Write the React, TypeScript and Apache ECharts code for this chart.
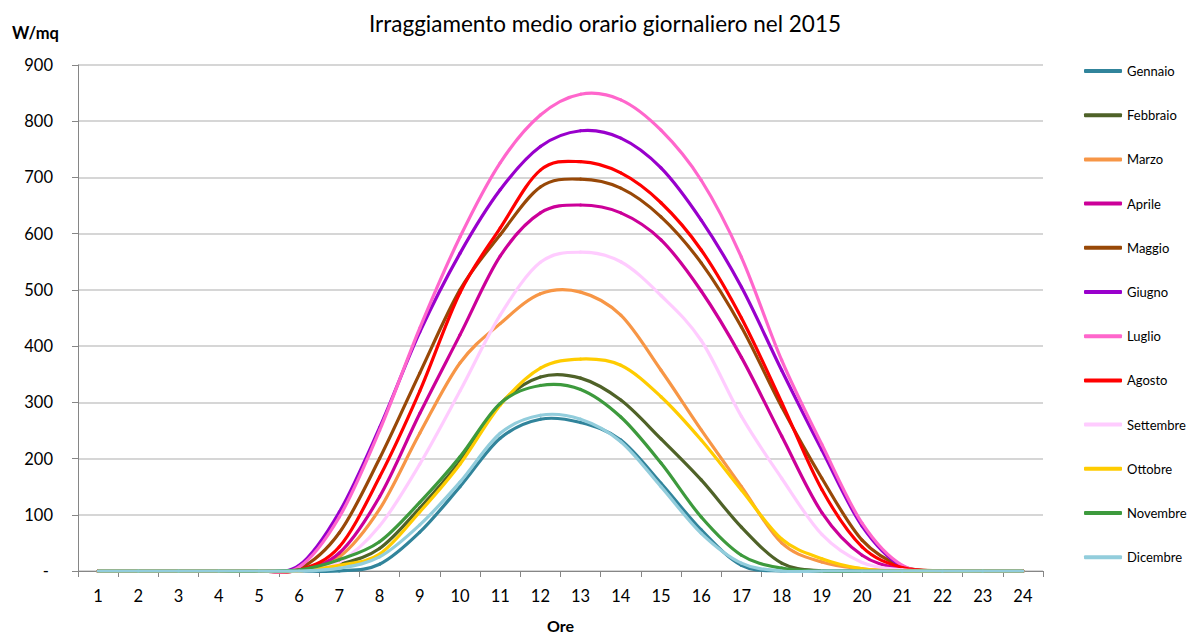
import React, { useEffect, useRef } from "react";
import * as echarts from "echarts";

const hours = ["1","2","3","4","5","6","7","8","9","10","11","12","13","14","15","16","17","18","19","20","21","22","23","24"];
const yTicks = [0, 100, 200, 300, 400, 500, 600, 700, 800, 900];

const months = ["Gennaio","Febbraio","Marzo","Aprile","Maggio","Giugno","Luglio","Agosto","Settembre","Ottobre","Novembre","Dicembre"];
const monthColors = ["#31849B","#4F6228","#F79646","#CC0099","#984807","#9900CC","#FF66CC","#FF0000","#FFCCFF","#FFCC00","#3D9A3D","#92CDDC"];

const gennaio   = [0,0,0,0,0,0,0,12,69,150,236,270,264,233,156,73,10,0,0,0,0,0,0,0];
const febbraio  = [0,0,0,0,0,0,12,40,112,195,297,345,343,304,235,162,78,14,0,0,0,0,0,0];
const marzo     = [0,0,0,0,0,1,25,110,245,370,440,493,496,455,357,251,150,50,16,4,0,0,0,0];
const aprile    = [0,0,0,0,0,1,32,132,280,420,560,637,651,637,589,498,380,240,104,28,4,0,0,0];
const maggio    = [0,0,0,0,0,4,68,200,352,500,598,683,697,681,630,548,434,292,165,55,8,0,0,0];
const giugno    = [0,0,0,0,0,10,105,255,425,565,678,755,783,770,717,624,505,357,215,80,8,0,0,0];
const luglio    = [0,0,0,0,0,7,96,250,432,594,726,811,848,838,784,695,558,375,225,85,10,0,0,0];
const agosto    = [0,0,0,0,0,2,43,167,320,495,610,713,728,708,655,571,450,300,145,43,6,0,0,0];
const settembre = [0,0,0,0,0,0,16,80,190,320,455,549,567,550,490,410,275,165,65,15,2,0,0,0];
const ottobre   = [0,0,0,0,0,0,10,30,105,190,295,361,377,366,310,233,144,57,22,4,0,0,0,0];
const novembre  = [0,0,0,0,0,2,20,52,122,203,298,330,323,274,192,96,28,5,0,0,0,0,0,0];
const dicembre  = [0,0,0,0,0,0,5,25,82,158,245,277,270,230,150,67,14,0,0,0,0,0,0,0];

const seriesData = [gennaio, febbraio, marzo, aprile, maggio, giugno, luglio, agosto, settembre, ottobre, novembre, dicembre];

const FONT = "Lato";

function makeRenderItem(values: number[], color: string) {
  return (params: any, api: any) => {
    const i = params.dataIndex;
    const n = values.length;
    if (i >= n - 1) return { type: "group", children: [] };
    const pt = (k: number) => {
      const kk = Math.max(0, Math.min(n - 1, k));
      return api.coord([kk, values[kk]]);
    };
    const p0 = pt(i - 1);
    const p1 = pt(i);
    const p2 = pt(i + 1);
    const p3 = pt(i + 2);
    const cp1x = p1[0] + (p2[0] - p0[0]) / 6;
    const cp1y = p1[1] + (p2[1] - p0[1]) / 6;
    const cp2x = p2[0] - (p3[0] - p1[0]) / 6;
    const cp2y = p2[1] - (p3[1] - p1[1]) / 6;
    return {
      type: "bezierCurve",
      shape: { x1: p1[0], y1: p1[1], x2: p2[0], y2: p2[1], cpx1: cp1x, cpy1: cp1y, cpx2: cp2x, cpy2: cp2y },
      style: { stroke: color, lineWidth: 3.2, fill: null, lineCap: "round" },
      silent: true,
    };
  };
}

export default function App() {
  const ref = useRef<HTMLDivElement>(null);
  useEffect(() => {
    if (!ref.current) return;
    const chart = echarts.init(ref.current, null, { renderer: "svg" });
    chart.setOption({
      animation: false,
      backgroundColor: "#ffffff",
      textStyle: { fontFamily: FONT },
      title: {
        text: "Irraggiamento medio orario giornaliero nel 2015",
        left: 600,
        textAlign: "center",
        top: 7,
        textStyle: { fontFamily: FONT, fontSize: 22.5, fontWeight: "normal", color: "#000" },
      },
      graphic: [
        {
          type: "text",
          left: 12,
          top: 24,
          style: { text: "W/mq", fontFamily: FONT, fontSize: 16.5, fontWeight: "bold", fill: "#000" },
        },
      ],
      legend: {
        orient: "vertical",
        left: 1079,
        top: 58,
        itemWidth: 38,
        itemHeight: 4,
        itemGap: 28.2,
        icon: "roundRect",
        textStyle: { fontFamily: FONT, fontSize: 13, color: "#000", lineHeight: 16 },
        data: months.map((m, i) => ({ name: m, itemStyle: { color: monthColors[i] } })),
      },
      grid: { left: 78, right: 151, top: 65, bottom: 66, containLabel: false, outerBoundsMode: "none" },
      xAxis: {
        type: "category",
        data: hours,
        boundaryGap: true,
        name: "Ore",
        nameLocation: "middle",
        nameGap: 46,
        nameTextStyle: { fontFamily: FONT, fontSize: 16, fontWeight: "bold", color: "#000" },
        axisLine: { lineStyle: { color: "#868686", width: 1 } },
        axisTick: { show: true, length: 6, lineStyle: { color: "#868686" } },
        axisLabel: { interval: 0, fontFamily: FONT, fontSize: 16.5, color: "#000", margin: 16 },
        splitLine: { show: false },
      },
      yAxis: {
        type: "value",
        min: yTicks[0],
        max: yTicks[yTicks.length - 1],
        interval: 100,
        axisLine: { show: true, lineStyle: { color: "#868686", width: 1 } },
        axisTick: { show: true, length: 6, lineStyle: { color: "#868686" } },
        axisLabel: {
          fontFamily: FONT,
          fontSize: 16.5,
          color: "#000",
          margin: 25,
          formatter: (v: number) => (v === 0 ? "- " : String(v)),
        },
        splitLine: { show: true, lineStyle: { color: "#C8C8C8", width: 1.5 } },
      },
      series: months.map((m, i) => ({
        name: m,
        type: "custom",
        coordinateSystem: "cartesian2d",
        encode: { x: 0, y: 1 },
        data: seriesData[i].map((v, k) => [k, v]),
        itemStyle: { color: monthColors[i] },
        renderItem: makeRenderItem(seriesData[i], monthColors[i]),
        clip: false,
      })),
    });
    return () => chart.dispose();
  }, []);
  return (
    <div
      ref={ref}
      style={{ width: 1194, height: 637, position: "absolute", left: 0, top: 0 }}
    />
  );
}
